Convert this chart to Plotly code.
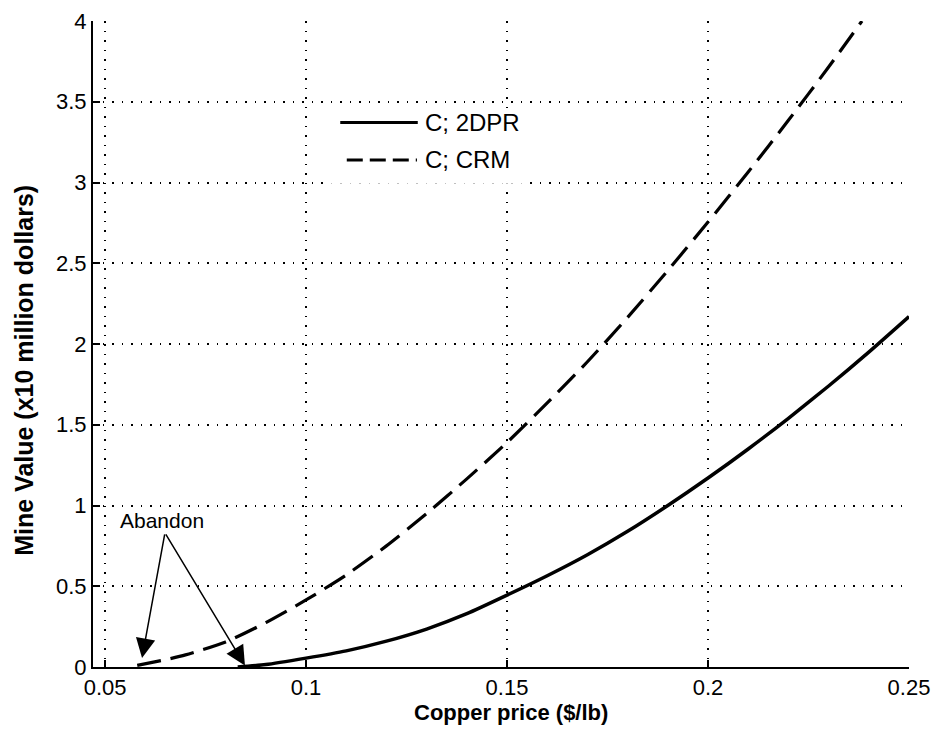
import plotly.graph_objects as go

# Data
price_2dpr = [0.083, 0.09, 0.10, 0.11, 0.12, 0.13, 0.14, 0.15, 0.16, 0.17, 0.18,
              0.19, 0.20, 0.21, 0.22, 0.23, 0.24, 0.25]
value_2dpr = [0.0, 0.015, 0.055, 0.10, 0.16, 0.235, 0.33, 0.445, 0.565, 0.695, 0.84,
              1.0, 1.17, 1.35, 1.54, 1.74, 1.95, 2.17]

price_crm = [0.058, 0.065, 0.07, 0.08, 0.09, 0.10, 0.11, 0.12, 0.13, 0.14, 0.15,
             0.16, 0.17, 0.18, 0.19, 0.20, 0.21, 0.22, 0.23, 0.2383]
value_crm = [0.01, 0.045, 0.075, 0.155, 0.275, 0.415, 0.57, 0.75, 0.95, 1.165, 1.39,
             1.635, 1.89, 2.165, 2.455, 2.755, 3.065, 3.385, 3.715, 4.0]

series_names = ["C; 2DPR", "C; CRM"]
x_ticks = [0.05, 0.1, 0.15, 0.2, 0.25]
x_tick_labels = ["0.05", "0.1", "0.15", "0.2", "0.25"]
y_ticks = [0, 0.5, 1, 1.5, 2, 2.5, 3, 3.5, 4]
y_tick_labels = ["0", "0.5", "1", "1.5", "2", "2.5", "3", "3.5", "4"]

abandon_tail = (0.0649, 0.83)
abandon_heads = [(0.0592, 0.056), (0.0848, 0.01)]
abandon_label = (0.0642, 0.905)

FONT = "Liberation Sans, Arial, sans-serif"

fig = go.Figure()
fig.add_trace(go.Scatter(x=price_2dpr, y=value_2dpr, mode="lines", name=series_names[0],
                         line=dict(color="black", width=3.5, shape="spline", smoothing=0.6),
                         showlegend=False))
fig.add_trace(go.Scatter(x=price_crm, y=value_crm, mode="lines", name=series_names[1],
                         line=dict(color="black", width=3.2, dash="24px,10px",
                                   shape="spline", smoothing=0.6),
                         showlegend=False))

# Arrows for "Abandon"
for hx, hy in abandon_heads:
    fig.add_annotation(x=hx, y=hy, ax=abandon_tail[0], ay=abandon_tail[1],
                       xref="x", yref="y", axref="x", ayref="y", text="",
                       showarrow=True, arrowhead=2, arrowsize=2.6, arrowwidth=1.5,
                       arrowcolor="black")
fig.add_annotation(x=abandon_label[0], y=abandon_label[1], xref="x", yref="y",
                   text="Abandon", showarrow=False,
                   font=dict(family=FONT, size=21, color="black"))

# Manual legend (white box, longer line samples)
fig.add_shape(type="rect", xref="paper", yref="paper", x0=0.283, x1=0.53, y0=0.748, y1=0.865,
              fillcolor="white", line=dict(width=0), layer="above")
fig.add_shape(type="line", xref="paper", yref="paper", x0=0.303, x1=0.398, y0=0.843, y1=0.843,
              line=dict(color="black", width=3), layer="above")
fig.add_shape(type="line", xref="paper", yref="paper", x0=0.311, x1=0.397, y0=0.785, y1=0.785,
              line=dict(color="black", width=3, dash="16px,7px"), layer="above")
fig.add_annotation(x=0.405, y=0.843, xref="paper", yref="paper", text=series_names[0],
                   showarrow=False, xanchor="left", yanchor="middle",
                   font=dict(family=FONT, size=24, color="black"))
fig.add_annotation(x=0.405, y=0.785, xref="paper", yref="paper", text=series_names[1],
                   showarrow=False, xanchor="left", yanchor="middle",
                   font=dict(family=FONT, size=24, color="black"))

# Axis titles placed as in the reference
fig.add_annotation(x=0.512, y=-0.0697, xref="paper", yref="paper",
                   text="<b>Copper price ($/lb)</b>", showarrow=False,
                   xanchor="center", yanchor="middle",
                   font=dict(family=FONT, size=22, color="black"))
fig.add_annotation(x=-0.0846, y=0.46, xref="paper", yref="paper",
                   text="<b>Mine Value (x10 million dollars)</b>", showarrow=False,
                   textangle=-90, xanchor="center", yanchor="middle",
                   font=dict(family=FONT, size=25, color="black"))

grid = dict(showgrid=True, gridcolor="black", gridwidth=1.5, griddash="1.5px,8px")
fig.update_xaxes(range=[0.047, 0.25], tickvals=x_ticks, ticktext=x_tick_labels,
                 showline=True, linecolor="black", linewidth=2, zeroline=False,
                 ticks="inside", ticklen=7, tickwidth=1.5, tickcolor="black",
                 tickfont=dict(family=FONT, size=22, color="black"),
                 automargin=False, **grid)
fig.update_yaxes(range=[0, 4], tickvals=y_ticks, ticktext=y_tick_labels,
                 showline=True, linecolor="black", linewidth=2, zeroline=False,
                 ticks="inside", ticklen=7, tickwidth=1.5, tickcolor="black",
                 tickfont=dict(family=FONT, size=22, color="black"),
                 automargin=False, **grid)
fig.update_layout(width=936, height=738, margin=dict(l=93, r=27, t=21, b=71),
                  paper_bgcolor="white", plot_bgcolor="white", showlegend=False)
fig.write_html("out.html")
